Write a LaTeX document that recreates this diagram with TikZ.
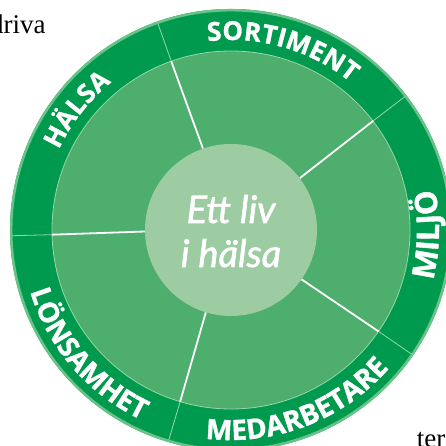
\documentclass[tikz,border=0pt]{standalone}
\usepackage{fontspec}
\setmainfont{Liberation Serif}
\newfontfamily\ringfont{Open Sans}[BoldFeatures={FakeBold=1.2}]
\newfontfamily\mottofont{Lato}[FakeBold=1.5]
\usetikzlibrary{decorations.text}

\definecolor{ringgreen}{RGB}{0,154,78}
\definecolor{fieldgreen}{RGB}{77,174,110}
\definecolor{hubgreen}{RGB}{158,204,162}
\definecolor{rimgreen}{RGB}{105,194,135}
\definecolor{seamgreen}{RGB}{150,214,168}

\tikzset{
  divider/.style={white,line width=1.8pt},
  seam/.style={seamgreen,line width=0.8pt},
  hubtext/.style={white,anchor=base,inner sep=0pt,font=\mottofont\itshape\fontsize{38}{44}\selectfont},
  pagetext/.style={anchor=base west,inner sep=0pt,font=\fontsize{27}{30}\selectfont},
  ringlabel/.style 2 args={decorate,decoration={text along path,text align=fit to path,
      text={|\ringfont\bfseries\fontsize{#1}{#1}\selectfont\color{white}|#2}}}
}

\begin{document}
\begin{tikzpicture}[x=1pt,y=1pt]
		\useasboundingbox (-231,-216) rectangle (214,230);
		% ring and field
		\fill[ringgreen] (0,0) circle[radius=221];
		\draw[rimgreen,line width=2.5pt] (0,0) circle[radius=219.8];
		\fill[fieldgreen] (0,0) circle[radius=179];
		\draw[seam] (0,0) circle[radius=179];
		\draw[seam] (37.5:179) -- (37.5:219) (109.5:179) -- (109.5:219) (181.5:179) -- (181.5:219) (253.5:179) -- (253.5:219) (325.5:179) -- (325.5:219);
		\node[circle,fill=hubgreen,minimum size=172,inner sep=0pt] (hub) at (0,0) {};
		\draw[divider] (hub.37.5) -- (37.5:179) (hub.109.5) -- (109.5:179) (hub.181.5) -- (181.5:179) (hub.253.5) -- (253.5:179) (hub.325.5) -- (325.5:179);
		% ring labels
		\path[ringlabel={26}{SORTIMENT}] (97:190) arc[start angle=97,end angle=51,radius=190];
		\path[ringlabel={26}{HÄLSA}] (155:190) arc[start angle=155,end angle=129,radius=190];
		\path[ringlabel={31}{MILJÖ}] (-14:208) arc[start angle=-14,end angle=9,radius=208];
		\path[ringlabel={28}{MEDARBETARE}] (263:210) arc[start angle=263,end angle=318,radius=210];
		\path[ringlabel={28}{LÖNSAMHET}] (197:210) arc[start angle=197,end angle=243,radius=210];
		% centre
		\node[hubtext] (motto1) at (0,7) {Ett liv};
		\node[hubtext] (motto2) at (0,-37) {i hälsa};
		% page text
		\node[pagetext] (prevword) at (-241,196) {driva};
		\node[pagetext] (nextword) at (185.7,-217) {ter};
\end{tikzpicture}
\end{document}
